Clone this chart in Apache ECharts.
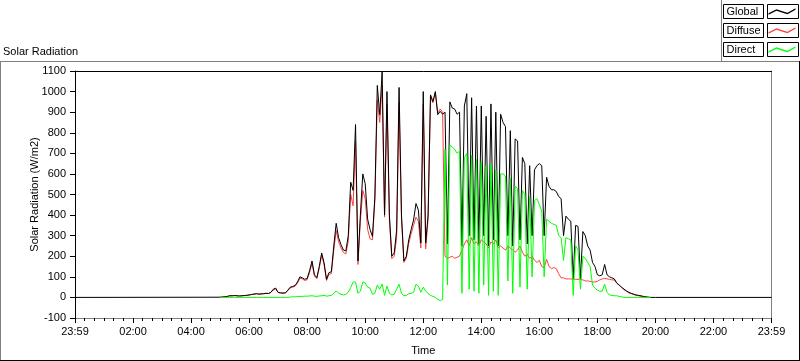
<!DOCTYPE html>
<html><head><meta charset="utf-8">
<script src="https://cdn.jsdelivr.net/npm/echarts/dist/echarts.min.js"></script>
<style>html,body{margin:0;padding:0;background:#fff}#c{width:800px;height:361px}</style>
</head><body><div id="c"></div><script>
// Waveform attributes: first sample time (minutes after midnight) and sample spacing (minutes)
const t0 = 300;   // 05:00
const dt = 5;

// Global (W/m2), 05:00 .. 20:00 every 5 min (one row per hour)
const globalVals = [
  1,2,3,5,8,8,9,8,7,8,9,10,
  12,14,16,18,16,17,18,20,19,25,40,45,
  24,22,21,22,35,50,53,58,75,100,95,88,
  92,130,177,110,96,150,216,168,88,120,125,250,
  360,290,256,230,226,300,560,520,840,177,400,600,
  552,380,330,296,490,1030,888,1096,400,1000,400,200,
  216,328,1020,400,177,200,280,330,376,456,424,264,
  1000,264,400,984,952,1000,888,904,890,900,260,950,
  920,915,890,900,250,930,990,300,970,280,930,260,
  930,300,880,250,940,280,900,250,890,850,830,300,
  810,250,770,760,280,680,650,260,640,300,620,640,
  650,640,300,584,540,523,523,515,490,480,300,395,
  380,370,90,350,345,90,320,300,250,230,170,150,
  110,105,110,160,110,100,95,90,70,60,50,40,
  32,25,20,16,12,10,8,5,3,1,0,0,
  0
];
// Diffuse (W/m2)
const diffuseVals = [
  1,2,3,5,8,8,9,8,7,8,9,10,
  12,14,16,18,16,17,18,20,19,24,36,40,
  24,22,21,22,33,46,50,54,70,93,90,82,
  86,122,165,104,91,142,205,158,82,112,116,228,
  325,270,240,218,211,275,500,445,760,160,370,520,
  480,330,285,280,470,960,850,1030,390,940,380,188,
  200,290,950,380,170,190,262,310,350,390,370,240,
  940,235,380,975,945,995,895,915,900,200,190,195,
  200,190,195,200,230,260,280,250,290,260,270,250,
  280,270,260,240,270,260,280,240,250,240,230,250,
  240,230,220,230,250,220,200,210,190,200,180,170,
  180,150,145,185,150,140,145,140,115,95,95,90,
  90,90,88,88,88,88,85,80,80,78,75,75,
  78,85,90,92,90,88,85,85,70,60,48,38,
  30,22,18,14,10,8,5,3,2,1,0,null,
  null
];
// Direct (W/m2)
const directVals = [
  0,0,0,0,0,0,0,0,0,0,0,0,
  0,0,0,0,0,0,0,0,0,0,0,0,
  0,0,0,0,0,2,3,3,4,5,5,6,
  6,7,8,6,5,7,8,10,6,8,10,20,
  32,20,15,12,15,25,48,75,75,20,30,75,
  70,50,45,15,20,60,40,65,10,55,20,12,
  15,40,64,20,8,10,18,20,25,64,55,25,
  50,30,20,10,5,0,-10,-15,-10,720,60,740,
  730,720,700,710,20,680,700,40,690,30,670,20,
  660,60,640,10,650,30,620,10,600,600,590,80,
  580,20,540,530,50,520,500,40,490,100,470,480,
  450,420,100,380,370,360,355,350,300,290,180,290,
  285,280,10,250,230,40,200,190,170,150,60,45,
  35,30,30,64,25,12,10,8,8,5,3,0,
  0,0,0,0,0,0,0,0,0,0,0,null,
  null
];
const seriesNames = ['Global', 'Diffuse', 'Direct'];
const seriesColors = ['#000000', '#ff4040', '#00ff00'];
const xTickLabels = ['23:59','02:00','04:00','06:00','08:00','10:00','12:00','14:00','16:00','18:00','20:00','22:00','23:59'];
const dayStart = 0, dayEnd = 1440;

function toPairs(vals) { return vals.map((v, i) => [t0 + i * dt, v]); }
const globalData = [[dayStart, 0]].concat(toPairs(globalVals), [[dayEnd, 0]]);

const FONT = 'Liberation Sans, Arial, sans-serif';
const chart = echarts.init(document.getElementById('c'), null, {renderer: 'canvas'});
const zig = 'path://M0,5 L8,1 L14,3 L19,4.5 L27,0 L27,1.3 L19,5.8 L14,4.3 L8,2.3 L0,6.3 Z';

chart.setOption({
  animation: false,
  backgroundColor: '#ffffff',
  textStyle: {fontFamily: FONT, fontSize: 11, color: '#000'},
  title: {text: 'Solar Radiation', left: 3, top: 46, padding: 0,
    textStyle: {fontFamily: FONT, fontSize: 11, fontWeight: 'normal', color: '#000'}},
  legend: {
    data: seriesNames, orient: 'vertical', left: 723, top: 4, align: 'right',
    itemWidth: 27, itemHeight: 9, itemGap: 4, padding: 0, icon: zig, selectedMode: false,
    formatter: name => '{t|' + name + '}',
    textStyle: {fontFamily: FONT, fontSize: 11, color: '#000', lineHeight: 13,
      padding: [1, 3, 0, 3], borderColor: '#000', borderWidth: 1,
      rich: {t: {width: 34, align: 'left', fontFamily: FONT, fontSize: 11, lineHeight: 13, color: '#000'}}}
  },
  grid: {left: 75, right: 28.5, top: 71, bottom: 39.5, containLabel: false},
  xAxis: [{
    type: 'value', min: dayStart, max: dayEnd, interval: 120,
    name: 'Time', nameLocation: 'middle', nameGap: 27, nameMoveOverlap: false,
    nameTextStyle: {fontFamily: FONT, fontSize: 11, color: '#000'},
    axisLine: {show: true, onZero: false, lineStyle: {color: '#808080', width: 1}},
    axisTick: {show: true, length: 5, lineStyle: {color: '#000'}},
    minorTick: {show: true, splitNumber: 6, length: 3, lineStyle: {color: '#000'}},
    axisLabel: {margin: 8, color: '#000', fontFamily: FONT, fontSize: 11,
      formatter: v => xTickLabels[Math.round(v / 120)]},
    splitLine: {show: false}
  }, {
    type: 'value', position: 'top', min: dayStart, max: dayEnd,
    axisLine: {show: true, onZero: false, lineStyle: {color: '#000', width: 1}},
    axisTick: {show: false}, axisLabel: {show: false}, splitLine: {show: false}
  }],
  yAxis: [{
    type: 'value', min: -100, max: 1100, interval: 100,
    name: 'Solar Radiation (W/m2)', nameLocation: 'middle', nameGap: 35, nameMoveOverlap: false,
    nameTextStyle: {fontFamily: FONT, fontSize: 11, color: '#000'},
    axisLine: {show: true, onZero: false, lineStyle: {color: '#000', width: 1}},
    axisTick: {show: true, length: 5, lineStyle: {color: '#000'}},
    axisLabel: {margin: 9, color: '#000', fontFamily: FONT, fontSize: 11, formatter: v => String(v)},
    splitLine: {show: false}
  }, {
    type: 'value', position: 'right', min: -100, max: 1100, interval: 100,
    axisLine: {show: true, onZero: false, lineStyle: {color: '#808080', width: 1}},
    axisTick: {show: false}, axisLabel: {show: false}, splitLine: {show: false}
  }],
  series: [
    {name: 'Diffuse', type: 'line', data: toPairs(diffuseVals), showSymbol: false, symbol: 'none',
      lineStyle: {color: seriesColors[1], width: 1}, itemStyle: {color: seriesColors[1]}, z: 2, connectNulls: false},
    {name: 'Global', type: 'line', data: globalData, showSymbol: false, symbol: 'none',
      lineStyle: {color: seriesColors[0], width: 1}, itemStyle: {color: seriesColors[0]}, z: 3},
    {name: 'Direct', type: 'line', data: toPairs(directVals), showSymbol: false, symbol: 'none',
      lineStyle: {color: seriesColors[2], width: 1}, itemStyle: {color: seriesColors[2]}, z: 4}
  ],
  graphic: [
    {type: 'line', shape: {x1: 0, y1: 61.5, x2: 800, y2: 61.5}, style: {stroke: '#808080', lineWidth: 1}, silent: true},
    {type: 'line', shape: {x1: 0.5, y1: 61, x2: 0.5, y2: 361}, style: {stroke: '#808080', lineWidth: 1}, silent: true},
    {type: 'line', shape: {x1: 0, y1: 360.5, x2: 800, y2: 360.5}, style: {stroke: '#000', lineWidth: 1}, silent: true},
    {type: 'line', shape: {x1: 799.5, y1: 61, x2: 799.5, y2: 361}, style: {stroke: '#000', lineWidth: 1}, silent: true},
    {type: 'line', shape: {x1: 721.5, y1: 0, x2: 721.5, y2: 61}, style: {stroke: '#808080', lineWidth: 1}, silent: true},
    {type: 'rect', shape: {x: 767.5, y: 4.5, width: 31, height: 14}, style: {stroke: '#000', fill: 'none', lineWidth: 1}, silent: true},
    {type: 'rect', shape: {x: 767.5, y: 23.5, width: 31, height: 14}, style: {stroke: '#000', fill: 'none', lineWidth: 1}, silent: true},
    {type: 'rect', shape: {x: 767.5, y: 42.5, width: 31, height: 14}, style: {stroke: '#000', fill: 'none', lineWidth: 1}, silent: true}
  ]
});
</script></body></html>
